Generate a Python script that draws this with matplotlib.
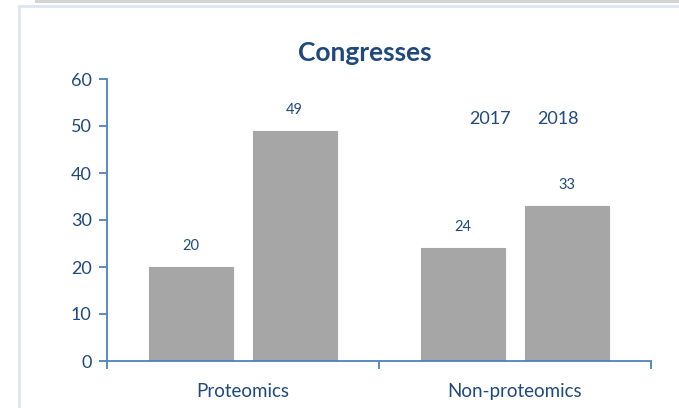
import matplotlib
matplotlib.use("Agg")
import matplotlib.pyplot as plt
from matplotlib.patches import Patch, Rectangle
from matplotlib.lines import Line2D
import numpy as np

categories = ["Proteomics", "Non-proteomics"]
series = ["2017", "2018"]
values_2017 = [20, 24]
values_2018 = [49, 33]
title = "Congresses"
yticks = [0, 10, 20, 30, 40, 50, 60]

plt.rcParams['font.family'] = ['Lato', 'DejaVu Sans']
TXT = "#1F497D"
AX = "#4F81BD"
BAR = "#A6A6A6"

fig = plt.figure(figsize=(6.79, 4.08), dpi=100)
W, H = 679, 408

# decorative frame
fig.add_artist(Rectangle((35 / W, 1 - 3 / H), 1, 3 / H, transform=fig.transFigure,
                         facecolor="#d4d4d4", edgecolor="none"))
fig.add_artist(Line2D([18.5 / W, 18.5 / W], [0, 1 - 5.5 / H], transform=fig.transFigure,
                      color="#dce6f2", lw=2))
fig.add_artist(Line2D([18.5 / W, 1], [1 - 5.5 / H, 1 - 5.5 / H], transform=fig.transFigure,
                      color="#dce6f2", lw=2))

ax = fig.add_axes([107 / W, 1 - 361 / H, (651 - 107) / W, (361 - 79) / H])

x = np.arange(len(categories))
bw = 0.31
off = 0.19
for vals, dx, name in [(values_2017, -off, series[0]), (values_2018, off, series[1])]:
    bars = ax.bar(x + dx, vals, bw, color=BAR, edgecolor=BAR, linewidth=0.8, zorder=2)
    for b, v in zip(bars, vals):
        ax.annotate(str(v), (b.get_x() + b.get_width() / 2, v), xytext=(0, 10),
                    textcoords="offset points", ha="center", va="bottom",
                    fontsize=10.5, color=TXT)

ax.set_xlim(-0.5, 1.5)
ax.set_ylim(0, 60)
ax.set_yticks(yticks)
ax.set_yticklabels([str(t) for t in yticks])
ax.set_xticks([-0.5, 0.5, 1.5])
ax.set_xticklabels([])
ax.set_xticks(x, minor=True)
ax.set_xticklabels(categories, minor=True)
ax.tick_params(axis="x", which="minor", length=0, pad=16, labelsize=13.5, labelcolor=TXT)
ax.tick_params(axis="x", which="major", length=6, width=1.3, color=AX, direction="out")
ax.tick_params(axis="y", length=6, width=1.3, color=AX, direction="out", labelsize=13,
               labelcolor=TXT, pad=5)
for s in ["top", "right"]:
    ax.spines[s].set_visible(False)
for s in ["left", "bottom"]:
    ax.spines[s].set_color(AX)
    ax.spines[s].set_linewidth(1.3)

handles = [Patch(facecolor="none", edgecolor="none") for _ in series]
leg = ax.legend(handles, series, ncol=2, frameon=False, fontsize=13,
                handlelength=0, handletextpad=0, columnspacing=1.5,
                loc="center", bbox_to_anchor=((524 - 107) / (651 - 107), (361 - 119) / (361 - 79)))
for t in leg.get_texts():
    t.set_color(TXT)

fig.text(365 / W, 1 - 53 / H, title, ha="center", va="center", fontsize=19,
         fontweight="bold", color=TXT)

fig.savefig("out.png", dpi=100)
